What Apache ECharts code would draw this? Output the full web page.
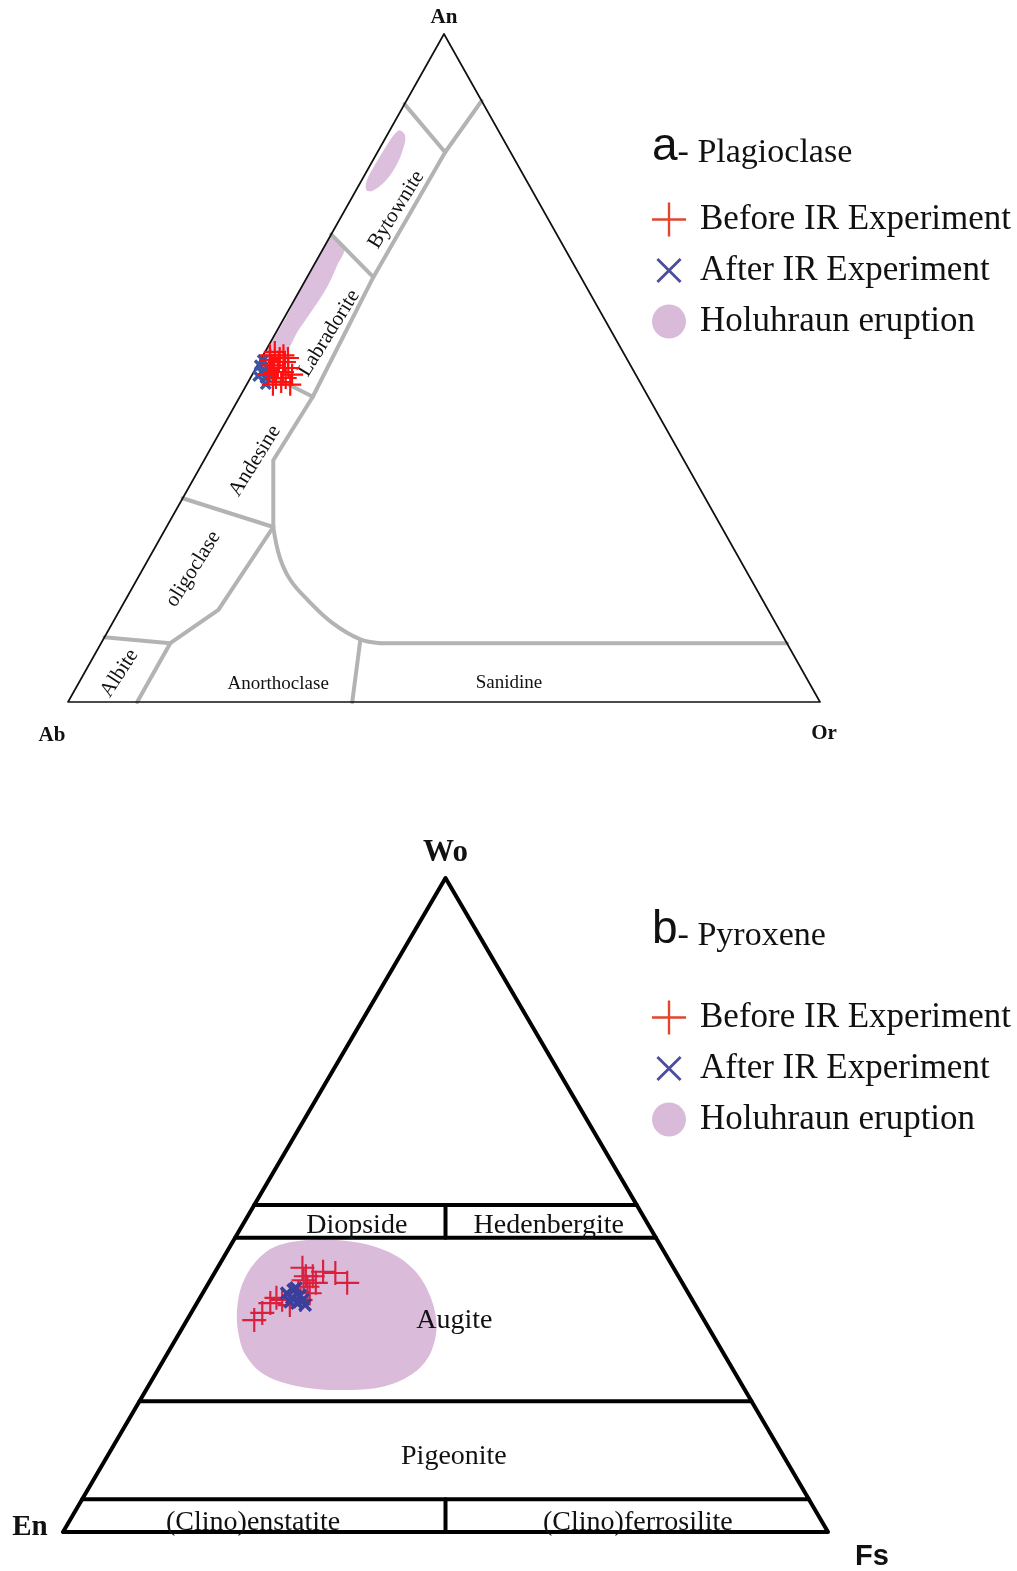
<!DOCTYPE html>
<html><head><meta charset="utf-8">
<script src="https://cdn.jsdelivr.net/npm/echarts/dist/echarts.min.js"></script>
<style>html,body{margin:0;padding:0;background:#fff}#c{width:1017px;height:1571px}</style>
</head><body><div id="c"></div><script>
// ---------------- DATA (compositions in %) ----------------
// a - Plagioclase (An, Or; Ab = 100 - An - Or)
const plagBeforeAn = [51.9,52.4,51.5,50.9,50.4,50.0,49.4,50.0,48.5,47.9,48.5,47.5,49.4,50.9,51.9,49.0,47.5,51.5,49.0,51.2];
const plagBeforeOr = [0.9,1.3,2.4,3.4,1.9,2.9,3.9,4.3,3.4,4.4,4.7,5.8,2.7,2.6,2.7,2.1,3.5,3.5,5.3,1.3];
const plagAfterAn  = [49.4,48.5,50.0,50.4,47.6,48.8,51.2,48.8];
const plagAfterOr  = [1.1,2.0,1.6,0.3,2.5,2.5,0.3,0.9];
// Holuhraun eruption fields (outline compositions)
const holuPlagUpperAn = [85.6,84.7,82.6,80.2,78.0,76.5,76.7,78.1,80.4,82.9,84.9];
const holuPlagUpperOr = [1.3,2.5,3.2,3.5,3.2,2.2,1.3,0.7,0.6,0.7,0.9];
const holuPlagLowerAn = [69.6,69.2,67.7,65.4,62.1,58.2,55.2,52.7,50.5,49.7,52.0,55.2,58.7,61.7,65.4,68.4];
const holuPlagLowerOr = [0.0,1.3,2.9,3.1,3.4,3.1,2.8,2.9,2.3,1.0,0.2,0.2,0.2,0.0,0.1,0.0];
// Feldspar classification boundaries [An, Or]
const plagBoundaries = [
  [[89.5,0],[82.3,9.0]],
  [[90,10],[82.3,9.0]],
  [[82.3,9.0],[63.6,8.8],[45.7,9.7],[36.2,9.2],[26.2,14.2]],
  [[70,0],[63.6,8.8]],
  [[50,0],[45.7,9.7]],
  [[30.5,0],[26.2,14.2]],
  [[26.2,14.2],[13.8,13.1],[8.8,9.2]],
  [[9.7,0],[8.8,9.2]],
  [[8.8,9.2],[0,9.2]],
  [[9.1,34.3],[0,37.8]],
  [[8.8,37.1],[8.8,91.2]]
];
const plagCurve = [[26.2,14.2],[21.7,17.3],[18.3,20.4],[15.3,24.2],[11.8,29.3],[9.4,34.1],[8.8,37.1]];
const plagFieldNames = ['Bytownite','Labradorite','Andesine','oligoclase','Albite','Anorthoclase','Sanidine'];
const plagFieldAn    = [73.7,55.2,36.1,19.9,4.3,3.1,3.3];
const plagFieldOr    = [6.8,7.1,6.8,6.7,4.7,26.4,57.0];
const plagVertexNames = ['An','Ab','Or'];
const plagVertexAn    = [100,0,0];
const plagVertexOr    = [0,0,100];

// b - Pyroxene (Wo, Fs; En = 100 - Wo - Fs)
const pyxBeforeWo = [32.4,33.5,35.0,35.8,35.5,34.7,36.7,40.4,38.5,37.5,36.5,39.1,38.1,39.8,39.6,38.1,35.5,39.1];
const pyxBeforeFs = [8.8,9.3,9.6,10.0,10.9,12.3,12.4,11.1,12.2,13.2,14.0,13.1,14.0,14.1,15.8,18.1,13.3,12.2];
const pyxAfterWo  = [36.5,35.8,35.0,36.2,37.0,35.5,35.2,37.3,34.7];
const pyxAfterFs  = [11.0,12.0,13.1,12.9,11.6,13.6,12.1,11.8,14.3];
const holuPyxWo = [33.9,37.8,41.3,43.6,44.6,44.6,43.6,41.3,37.8,32.4,27.8,24.5,22.3,21.7,22.2,24.0,27.1,30.6];
const holuPyxFs = [5.8,4.5,4.5,5.9,9.3,13.9,19.0,24.1,28.4,32.6,34.3,33.8,30.9,25.4,19.9,14.4,10.3,7.6];
// Pyroxene classification boundaries [Wo, Fs]
const pyxBoundaries = [
  [[100,0],[0,0],[0,100],[100,0]],
  [[50,0],[50,50]],
  [[45,0],[45,55]],
  [[20,0],[20,80]],
  [[5,0],[5,95]],
  [[50,25],[45,27.5]],
  [[5,47.5],[0,50]]
];
const pyxFieldNames = ['Diopside','Hedenbergite','Augite','Pigeonite','(Clino)enstatite','(Clino)ferrosilite'];
const pyxFieldWo    = [47.4,47.4,32.9,12.2,2.1,2.1];
const pyxFieldFs    = [14.7,39.8,34.7,45.0,23.8,74.1];
const pyxVertexNames = ['Wo','En','Fs'];
const pyxVertexWo    = [100,0,0];
const pyxVertexFs    = [0,0,100];

// ---------------- helpers ----------------
const plagXY = (an, or) => [or + an / 2, an];
const pyxXY  = (wo, fs) => [fs + wo / 2, wo];
const SERIF = "'Liberation Serif','Times New Roman',serif";
const SANS = "'Liberation Sans',Arial,sans-serif";
function plusPath(t){const a=10-t/2,b=10+t/2;return `path://M0,${a}H20V${b}H0Z M${a},0H${b}V20H${a}Z`;}
function xPath(t, pad){let p=`M0,${t}L${t},0L20,${20-t}L${20-t},20Z M${20-t},0L20,${t}L${t},20L0,${20-t}Z`;
  if(pad){p+=` M${-pad},${-pad}h0.01v0.01h-0.01Z M${20+pad},${20+pad}h0.01v0.01h-0.01Z`;}return 'path://'+p;}

function line(ax, pts, color, width, smooth){
  return {type:'line', xAxisIndex:ax, yAxisIndex:ax, data:pts, symbol:'none', smooth:smooth||false,
    lineStyle:{color:color, width:width, cap:'round', join:'round', opacity:1}, clip:false, silent:true, z:3, animation:false};
}
function poly(ax, name, pts, color){
  return {type:'custom', name:name, xAxisIndex:ax, yAxisIndex:ax, coordinateSystem:'cartesian2d',
    data:[pts[0]], clip:false, silent:true, z:1, itemStyle:{color:color},
    renderItem:(params, api)=>({type:'polygon', shape:{points:pts.map(p=>api.coord(p)), smooth:0.35},
      style:{fill:color}})};
}
function marks(ax, name, pts, symbol, size, color, z){
  return {type:'scatter', name:name, xAxisIndex:ax, yAxisIndex:ax, data:pts, symbol:symbol, symbolSize:size,
    itemStyle:{color:color, opacity:1}, clip:false, silent:true, z:z, animation:false};
}
function labels(ax, items, font, size, bold){
  return {type:'scatter', xAxisIndex:ax, yAxisIndex:ax, symbol:'circle', symbolSize:1, clip:false, silent:true, z:6,
    itemStyle:{color:'rgba(0,0,0,0)', opacity:1},
    data:items.map(it=>({name:it.name, value:it.value,
      label:{show:true, position:'inside', formatter:'{b}', rotate:it.rotate||0, offset:it.offset||[0,0], opacity:1,
        fontFamily:it.font||font, fontSize:it.size||size, fontWeight:bold?'bold':'normal', color:'#111'}}))};
}

// ---------------- build ----------------
const series = [];
// Plagioclase
series.push(poly(0,'Holuhraun eruption', holuPlagUpperAn.map((a,i)=>plagXY(a,holuPlagUpperOr[i])), '#dbbfdd'));
series.push(poly(0,'Holuhraun eruption', holuPlagLowerAn.map((a,i)=>plagXY(a,holuPlagLowerOr[i])), '#dbbfdd'));
plagBoundaries.forEach(b=>series.push(line(0, b.map(p=>plagXY(p[0],p[1])), '#b3b3b3', 4)));
series.push(line(0, plagCurve.map(p=>plagXY(p[0],p[1])), '#b3b3b3', 4, 0.4));
const plagOutline = [0,1,2,0].map(i=>plagXY(plagVertexAn[i], plagVertexOr[i]));
series.push(Object.assign(line(0, plagOutline, '#111', 1.7), {z:4}));
series.push(marks(0,'After IR Experiment', plagAfterAn.map((a,i)=>plagXY(a,plagAfterOr[i])), xPath(4), 12, '#3b56a6', 7));
series.push(marks(0,'Before IR Experiment', plagBeforeAn.map((a,i)=>plagXY(a,plagBeforeOr[i])), plusPath(2), 22, '#ff1010', 8));
const plagRot = {Bytownite:58, Labradorite:58, Andesine:58, oligoclase:58, Albite:57};
series.push(labels(0, plagFieldNames.map((n,i)=>({name:n, value:plagXY(plagFieldAn[i],plagFieldOr[i]),
  rotate:plagRot[n]||0, size:plagRot[n]?21:19, offset:plagRot[n]?[0,0]:[0,3]})), SERIF, 20, false));
const plagVOff = {An:[0,-16], Ab:[-16,34], Or:[4,32]};
series.push(labels(0, plagVertexNames.map((n,i)=>({name:n, value:plagXY(plagVertexAn[i],plagVertexOr[i]), offset:plagVOff[n]})), SERIF, 21, true));

// Pyroxene
series.push(poly(1,'Holuhraun eruption', holuPyxWo.map((w,i)=>pyxXY(w,holuPyxFs[i])), '#dabbda'));
pyxBoundaries.forEach(b=>series.push(line(1, b.map(p=>pyxXY(p[0],p[1])), '#000', 4)));
series.push(marks(1,'Before IR Experiment', pyxBeforeWo.map((w,i)=>pyxXY(w,pyxBeforeFs[i])), plusPath(1.8), 24, '#d9213f', 7));
series.push(marks(1,'After IR Experiment', pyxAfterWo.map((w,i)=>pyxXY(w,pyxAfterFs[i])), xPath(3.5), 14, '#3b3f9c', 8));
series.push(labels(1, pyxFieldNames.map((n,i)=>({name:n, value:pyxXY(pyxFieldWo[i],pyxFieldFs[i]), offset:[0,4]})), SERIF, 28, false));
const pyxVOff = {Wo:[0,-25], En:[-33,-4], Fs:[44,25]};
series.push(labels(1, pyxVertexNames.map((n,i)=>({name:n, value:pyxXY(pyxVertexWo[i],pyxVertexFs[i]), offset:pyxVOff[n],
  font: n==='Fs' ? SANS : SERIF, size: n==='Wo'?31:29})), SERIF, 29, true));

function legendData(){
  return [
    {name:'Before IR Experiment', icon:plusPath(1.4), itemStyle:{color:'#e2462e'}},
    {name:'After IR Experiment', icon:xPath(1.6, 3.5), itemStyle:{color:'#4d4d9e'}},
    {name:'Holuhraun eruption', icon:'circle', itemStyle:{color:'#d9bbd9'}}
  ];
}
function legend(top){
  return {left:652, top:top, orient:'vertical', itemWidth:34, itemHeight:34, itemGap:16, padding:0,
    selectedMode:false, data:legendData(),
    textStyle:{fontFamily:SERIF, fontSize:35, color:'#111', padding:[0,0,0,9]}};
}
function title(letter, text, top){
  return {left:652, top:top, text:`{a|${letter}}{b|- ${text}}`, padding:0,
    textStyle:{fontWeight:'normal', rich:{a:{fontFamily:SANS, fontSize:46, fontWeight:'normal', color:'#111', verticalAlign:'bottom'},
      b:{fontFamily:SERIF, fontSize:34, fontWeight:'normal', color:'#111', verticalAlign:'bottom'}}}};
}

const axisOff = {type:'value', min:0, max:100, show:false};
const option = {
  backgroundColor:'#fff', animation:false,
  grid:[{left:68, top:34, width:752, height:668}, {left:63, top:878, width:765, height:654}],
  xAxis:[Object.assign({gridIndex:0}, axisOff), Object.assign({gridIndex:1}, axisOff)],
  yAxis:[Object.assign({gridIndex:0}, axisOff), Object.assign({gridIndex:1}, axisOff)],
  title:[title('a','Plagioclase',124), title('b','Pyroxene',907)],
  legend:[legend(202), legend(1000)],
  series:series
};
const chart = echarts.init(document.getElementById('c'), null, {renderer:'canvas'});
chart.setOption(option);
</script></body></html>
